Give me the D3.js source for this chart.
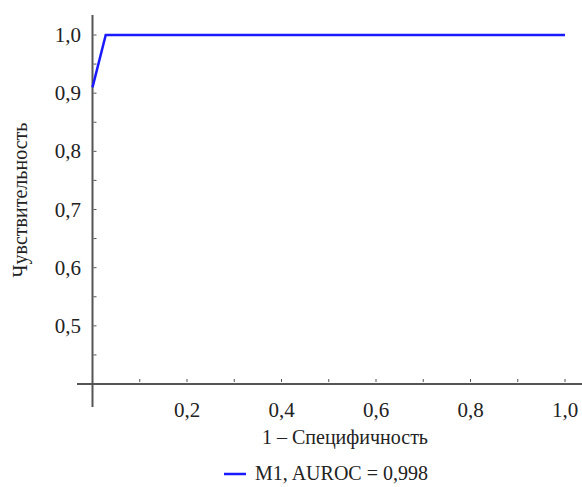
<!DOCTYPE html>
<html><head><meta charset="utf-8">
<script src="https://cdn.jsdelivr.net/npm/d3@7"></script>
<style>body{margin:0;background:#fff}svg{display:block}svg text{font-family:"Liberation Serif",serif !important}</style>
</head><body><svg id="c" width="582" height="487"></svg>
<script>
const fpr = [0, 0.028, 1.0];
const tpr = [0.91, 1.0, 1.0];
const xTicks = [0.2, 0.4, 0.6, 0.8, 1.0];
const yTicks = [0.5, 0.6, 0.7, 0.8, 0.9, 1.0];
const seriesName = "M1, AUROC = 0,998";
const xLabel = "1 – Специфичность";
const yLabel = "Чувствительность";

const svg = d3.select("#c");
const x = d3.scaleLinear().domain([0, 1]).range([92.5, 565]);
const y = d3.scaleLinear().domain([0.4, 1.0]).range([384, 35]);
const fmt = d => d.toFixed(1).replace(".", ",");
const axisColor = "#555";
const txt = "#222";

svg.append("line").attr("x1", 77).attr("x2", 582).attr("y1", y(0.4)).attr("y2", y(0.4))
  .attr("stroke", axisColor).attr("stroke-width", 2);
svg.append("line").attr("x1", x(0)).attr("x2", x(0)).attr("y1", 15).attr("y2", 407)
  .attr("stroke", axisColor).attr("stroke-width", 2);

const xMinor = d3.range(0.1, 1.001, 0.1);
svg.selectAll(".xt").data(xMinor).enter().append("line")
  .attr("x1", d => x(d)).attr("x2", d => x(d)).attr("y1", y(0.4) - 2).attr("y2", y(0.4) - 5)
  .attr("stroke", axisColor).attr("stroke-width", 1);
svg.selectAll(".xl").data(xTicks).enter().append("text")
  .attr("x", d => x(d)).attr("y", 417).attr("text-anchor", "middle")
  .style("font-family", "Liberation Serif").attr("fill", txt).attr("font-size", 21).text(fmt);

const yMinor = d3.range(0.45, 1.001, 0.05);
svg.selectAll(".yt").data(yMinor).enter().append("line")
  .attr("x1", x(0) + 1).attr("x2", x(0) + 4).attr("y1", d => y(d)).attr("y2", d => y(d))
  .attr("stroke", axisColor).attr("stroke-width", 1);
svg.selectAll(".yl").data(yTicks).enter().append("text")
  .attr("x", 81).attr("y", d => y(d) + 7).attr("text-anchor", "end")
  .style("font-family", "Liberation Serif").attr("fill", txt).attr("font-size", 21).text(fmt);

svg.append("text").attr("x", 345).attr("y", 444).attr("text-anchor", "middle")
  .style("font-family", "Liberation Serif").attr("fill", txt).attr("font-size", 20).text(xLabel);
svg.append("text").attr("transform", "translate(27,200) rotate(-90)")
  .attr("text-anchor", "middle").style("font-family", "Liberation Serif").attr("fill", txt)
  .attr("font-size", 20).text(yLabel);

const pts = fpr.map((f, i) => [f, tpr[i]]);
svg.append("path").datum(pts)
  .attr("d", d3.line().x(d => x(d[0])).y(d => y(d[1])))
  .attr("fill", "none").attr("stroke", "#1a1aff").attr("stroke-width", 2.5);

svg.append("line").attr("x1", 224).attr("x2", 246).attr("y1", 474).attr("y2", 474)
  .attr("stroke", "#1a1aff").attr("stroke-width", 2.5);
svg.append("text").attr("x", 255).attr("y", 480).style("font-family", "Liberation Serif").attr("fill", txt)
  .attr("font-size", 20).text(seriesName);
</script></body></html>
